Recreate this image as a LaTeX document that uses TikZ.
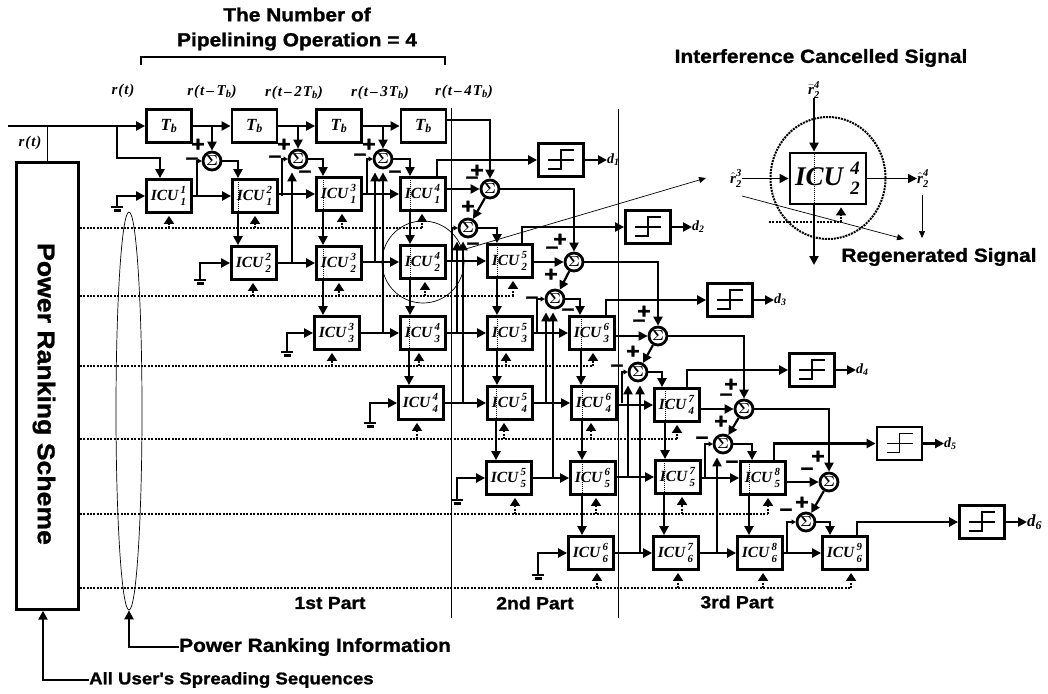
\documentclass[tikz,border=0pt]{standalone}
\usepackage{amsmath}
\usepackage{fontspec}
\setmainfont{Liberation Serif}
\newfontfamily\hv[FakeStretch=1.1,BoldFeatures={FakeBold=1.2}]{Liberation Sans}
\usepackage{tikz}
\usetikzlibrary{arrows.meta,shapes.geometric}
\newcommand{\icu}[3][1pt]{ICU\hspace{#1}$\genfrac{}{}{0pt}{1}{\text{#3}}{\text{#2}}$}
\tikzset{
    sig/.style={line width=2.2pt},
    arr/.style={sig,-{Triangle[length=9pt,width=9pt]}},
    tinyarr/.style={sig,-{Triangle[length=4pt,width=5pt]}},
    hair/.style={line width=0.7pt},
    hairarr/.style={hair,-{Triangle[length=7pt,width=6pt]}},
    through/.style={line width=1pt,densely dotted},
    bus/.style={line width=1.8pt,dash pattern=on 2pt off 1.4pt},
    ctrl/.style={bus,-{Triangle[length=8pt,width=10pt]},shorten >=2pt},
    boxed/.style={draw,line width=2.8pt,inner sep=0pt,minimum width=45pt,minimum height=33pt},
    icubox/.style={boxed,font=\bfseries\itshape\fontsize{15.5}{15.5}\selectfont},
    sumnode/.style={circle,draw,line width=2.8pt,inner sep=0pt,minimum size=18pt,font=\hv\bfseries\fontsize{15}{15}\selectfont},
    signlab/.style={inner sep=0pt,font=\hv\bfseries\fontsize{21}{21}\selectfont},
    capt/.style={inner sep=0pt,font=\hv\bfseries\fontsize{19}{25}\selectfont,align=center},
    partlab/.style={capt,font=\hv\bfseries\fontsize{17.6}{20}\selectfont},
    rlab/.style={inner sep=0pt,font=\bfseries\itshape\fontsize{15}{15}\selectfont\addfontfeature{LetterSpace=6}}
}

\begin{document}
\begin{tikzpicture}[x=1pt,y=-1pt]
    \useasboundingbox (0,0) rectangle (1048,693);

    % scheme box and information ellipse
    \node[draw,line width=2.4pt,inner sep=0pt,minimum width=62pt,minimum height=447pt] (PRS) at (47.5,386) {};
    \node[inner sep=0pt,rotate=-90,font=\hv\bfseries\fontsize{24.2}{26}\selectfont] (PRStext) at (44,394) {Power Ranking Scheme};
    \node[ellipse,draw,hair,inner sep=0pt,minimum width=26pt,minimum height=398pt] (info) at (129,411) {};

    % delays
    \foreach \num/\xx in {1/169,2/254.5,3/339,4/423.5}
        \node[boxed,font=\bfseries\itshape\fontsize{17}{17}\selectfont] (T\num) at (\xx,126) {T$_{\text{b}}$};

    % interference cancellation units
    \foreach \lo/\hi/\xx/\yy in {1/1/169/196,1/2/255/196,1/3/339/194,1/4/423/194,
        2/2/254/263,2/3/339/263,2/4/423/262,2/5/510/261,
        3/3/337/333,3/4/423/333,3/5/510/333,3/6/592/333,
        4/4/421/403,4/5/510/403,4/6/594/403,4/7/677/405,
        5/5/509/478,5/6/593/478,5/7/678/477,5/8/763/478,
        6/6/591/553,6/7/676/553,6/8/760/553,6/9/845/553}
        \node[icubox] (ICU\lo\hi) at (\xx,\yy) {\icu{\lo}{\hi}};

    % summers
    \foreach \num/\xx/\yy in {1/212/161,2/298/159,3/383/159,4/490/189,5/468/228,6/574/262,7/555/299,
        8/658/336,9/638/372,10/744/409,11/723/444,12/829/482,13/806/522}
        \node[sumnode] (S\num) at (\xx,\yy) {$\boldsymbol{\Sigma}$};

    % decision devices
    \foreach \num/\xx/\yy/\lx in {1/561/160/607,2/648/227/692,3/730/300/774,4/812/370/856,5/899.5/443.5/944,6/982/522/1027} {
        \node[boxed] (D\num) at (\xx,\yy) {};
        \node[rlab,anchor=west,font=\bfseries\itshape\fontsize{\ifnum\num=6 17\else 14\fi}{17}\selectfont] (L\num) at (\lx,\yy) {d$_{\text{\num}}$};
        \draw[sig,line width=1.6pt] (\xx-13,\yy) -- (\xx+13,\yy);
        \draw[sig,line width=1.6pt] (\xx-13,\yy+9) -- (\xx,\yy+9) -- (\xx,\yy-10) -- (\xx+13,\yy-10);
        \draw[arr] (D\num.east) -- (L\num.west);
    }

    % delay line
    \coordinate (rin) at (8,126);
    \coordinate (rb) at (117,126);
    \coordinate (bend) at (160,158);
    \coordinate (t4out) at (447,120);
    \draw[arr] (rin) -- (T1.west);
    \draw[sig,line width=1.1pt] (rin -| PRS.north) -- (PRS.north);
    \draw[arr] (rb) |- (bend) -- (bend |- ICU11.north);
    \draw[arr] (T1.east) -- (T2.west);
    \draw[arr] (T2.east) -- (T3.west);
    \draw[arr] (T3.east) -- (T4.west);
    \draw[arr] (t4out) -| (S4.north);
    \draw[arr] (T1.east -| S1) -- (S1.north);
    \draw[arr] (T2.east -| S2) -- (S2.north);
    \draw[arr] (T3.east -| S3) -- (S3.north);

    % rows
    \foreach \src/\dst in {11/12,12/13,13/14,22/23,23/24,24/25,33/34,34/35,35/36,44/45,45/46,46/47,
        55/56,56/57,57/58,66/67,67/68,68/69}
        \draw[arr] (ICU\dst.west -| ICU\src.east) -- (ICU\dst.west);

    % columns, dotted where they pass a box
    \foreach \src/\dst/\xx in {12/22/238,13/23/323,23/33/323,14/24/410,24/34/410,34/44/409,25/35/497,35/45/497,
        45/55/496,36/46/581,46/56/582,56/66/582,47/57/665,57/67/664,58/68/749} {
        \coordinate (q) at (\xx,0);
        \draw[arr] (ICU\src.south -| q) -- (ICU\dst.north -| q);
        \draw[through] (ICU\src.north -| q) -- (ICU\src.south -| q);
    }

    % grounds
    \foreach \src/\xx/\yy in {11/117/207,22/200/280,33/287/352,44/370/423,55/457/500,66/538/575} {
        \coordinate (g\src) at (\xx,\yy);
        \draw[arr] (g\src) |- (ICU\src.west);
        \draw[sig] (g\src) ++(-6,0) -- ++(12,0);
        \draw[sig] (g\src) ++(-3.5,3.5) -- ++(7,0);
    }

    % sums: from the top, from the box before, out and to the next one
    \foreach \src/\dst in {S4/S6,S6/S8,S8/S10,S10/S12}
        \draw[arr] (\src.east) -| (\dst.north);
    \foreach \src/\dst in {14/4,25/6,36/8,47/10,58/12}
        \draw[arr] (S\dst.west -| ICU\src.east) -- (S\dst.west);
    \foreach \src/\dst in {S4/S5,S6/S7,S8/S9,S10/S11,S12/S13}
        \draw[arr] (\src) -- (\dst);
    \foreach \num/\dst/\xx in {1/12/238,2/13/323,3/14/410,5/25/497,7/36/580,9/47/662,11/58/752,13/69/830} {
        \coordinate (q) at (\xx,0);
        \draw[arr] (S\num.east) -| (ICU\dst.north -| q);
    }
    \foreach \src/\num/\xx in {11/1/197,12/2/282,13/3/367,24/5/452,35/7/537,46/9/622,57/11/705,68/13/787} {
        \coordinate (q) at (\xx,0);
        \draw[tinyarr] (q |- ICU\src.east) |- (S\num.west);
    }
    \foreach \src/\num/\xx in {22/2/292,23/3/375,33/3/383,34/5/457,44/5/463,45/7/546,55/7/553,56/9/628,66/9/640,67/11/717} {
        \coordinate (q) at (\xx,0);
        \draw[arr,shorten >=3pt] (q |- ICU\src.east) -- (q |- S\num.south);
    }

    % to the decision devices
    \foreach \src/\num/\xx in {14/1/437,25/2/522,36/3/606,47/4/687,58/5/774,69/6/857} {
        \coordinate (q) at (\xx,0);
        \draw[arr] (ICU\src.north -| q) |- (D\num.west);
    }

    % information lines
    \foreach \num/\yy/\xx in {1/228/422,2/296/514,3/366/593,4/439/677,5/514/767,6/588/851} {
        \coordinate (bus\num) at (\xx,\yy);
        \draw[bus] (PRS.east |- bus\num) -- (bus\num);
    }
    \foreach \src/\xx/\num in {11/169/1,12/255/1,13/342/1,14/422/1,22/253/2,23/339/2,24/425/2,25/513/2,
        33/332/3,34/419/3,35/506/3,36/593/3,44/417/4,45/504/4,46/591/4,47/677/4,
        55/515/5,56/596/5,57/682/5,58/768/5,66/597/6,67/678/6,68/763/6,69/851/6} {
        \coordinate (q) at (\xx,0);
        \draw[ctrl] (q |- bus\num) -- (q |- ICU\src.south);
    }

    % signs
    \foreach \xx/\yy [count=\num] in {198/145,284/145,369/145,477/171,468/207,560/240,551/275,644/312,633/352,731/385,721/422,818/457,802/503}
        \node[signlab] (plus\num) at (\xx,\yy) {+};
    \foreach \xx/\yy [count=\num] in {192/161,275/159,360/157,305/174,395/174,472/180,473/246,552/250,532/300,568/312,639/323,617/368,726/397,702/440,732/464,807/471,786/512}
        \node[signlab] (minus\num) at (\xx,\yy) {–};

    % part borders
    \coordinate (p1t) at (451,108);
    \coordinate (p1b) at (451,618);
    \coordinate (p2t) at (618,109);
    \coordinate (p2b) at (618,618);
    \draw[sig,line width=0.8pt] (p1t) -- (p1b);
    \draw[sig,line width=0.8pt] (p2t) -- (p2b);

    % texts
    \node[rlab] (rlab0) at (30,143) {r(t)};
    \node[rlab] (rlab1) at (123,91) {r(t)};
    \node[rlab] (rlab2) at (212,92) {r(t\,--\,T$_{\text{b}}$)};
    \node[rlab] (rlab3) at (294,93) {r(t\,--\,2T$_{\text{b}}$)};
    \node[rlab] (rlab4) at (380,93) {r(t\,--\,3T$_{\text{b}}$)};
    \node[rlab] (rlab5) at (464,92) {r(t\,--\,4T$_{\text{b}}$)};
    \node[capt] (title) at (297,29) {The Number of\\Pipelining Operation = 4};
    \node[partlab] (part1) at (330,603) {1st Part};
    \node[partlab] (part2) at (535,603) {2nd Part};
    \node[partlab] (part3) at (737,602) {3rd Part};
    \node[capt,anchor=west] (infolab) at (179,647) {Power Ranking Information};
    \node[capt,anchor=west,font=\hv\bfseries\fontsize{16.9}{20}\selectfont] (userlab) at (89,680) {All User's Spreading Sequences};
    \coordinate (brl) at (141,65);
    \coordinate (brr) at (445,65);
    \draw[sig,line width=1.5pt] (brl) -- ++(0,-8) -| (brr);
    \draw[arr] (infolab.west) -| (info.south);
    \coordinate (q) at (43,0);
    \draw[arr] (userlab.west) -| (PRS.south -| q);

    % zoom on one unit
    \node[circle,draw,hair,inner sep=0pt,minimum size=82pt] (zoomc) at (423,262) {};
    \coordinate (zoomend) at (706,178);
    \draw[hairarr] (zoomc.17) -- (zoomend);

    \node[boxed,minimum width=76pt,minimum height=51pt,font=\bfseries\itshape\fontsize{27}{27}\selectfont] (big) at (828,178.5) {\icu[6pt]{2}{4}};
    \node[ellipse,draw,line width=2pt,densely dotted,inner sep=0pt,minimum width=115pt,minimum height=122pt] (ring) at (828,178) {};
    \node[rlab] (rbar) at (814,90) {$\bar{\text{r}}^{\text{4}}_{\text{2}}$};
    \node[rlab] (rleft) at (736,178.5) {$\hat{\text{r}}^{\text{3}}_{\text{2}}$};
    \node[rlab] (rright) at (923,178.5) {$\hat{\text{r}}^{\text{4}}_{\text{2}}$};
    \coordinate (downend) at (814,265);
    \draw[arr] (rbar.south) -- (big.north -| rbar);
    \draw[through] (big.north -| rbar) -- (big.south -| rbar);
    \draw[arr] (big.south -| rbar) -- (downend);
    \draw[arr,line width=1.4pt] (rleft.east) -- (big.west);
    \draw[arr,line width=1.4pt] (big.east) -- (rright.west);
    \coordinate (insetbus) at (769,222);
    \coordinate (insetup) at (841,222);
    \draw[bus] (insetbus) -- (insetup);
    \draw[ctrl] (insetup) -- (insetup |- big.south);
    \coordinate (reg1) at (742,196);
    \coordinate (reg2) at (904,239);
    \coordinate (reg3) at (922,195);
    \coordinate (reg4) at (922,238);
    \draw[hairarr] (reg1) -- (reg2);
    \draw[hairarr] (reg3) -- (reg4);
    \node[capt] (cancel) at (821,58) {Interference Cancelled Signal};
    \node[capt] (regen) at (939,257) {Regenerated Signal};

\end{tikzpicture}
\end{document}
